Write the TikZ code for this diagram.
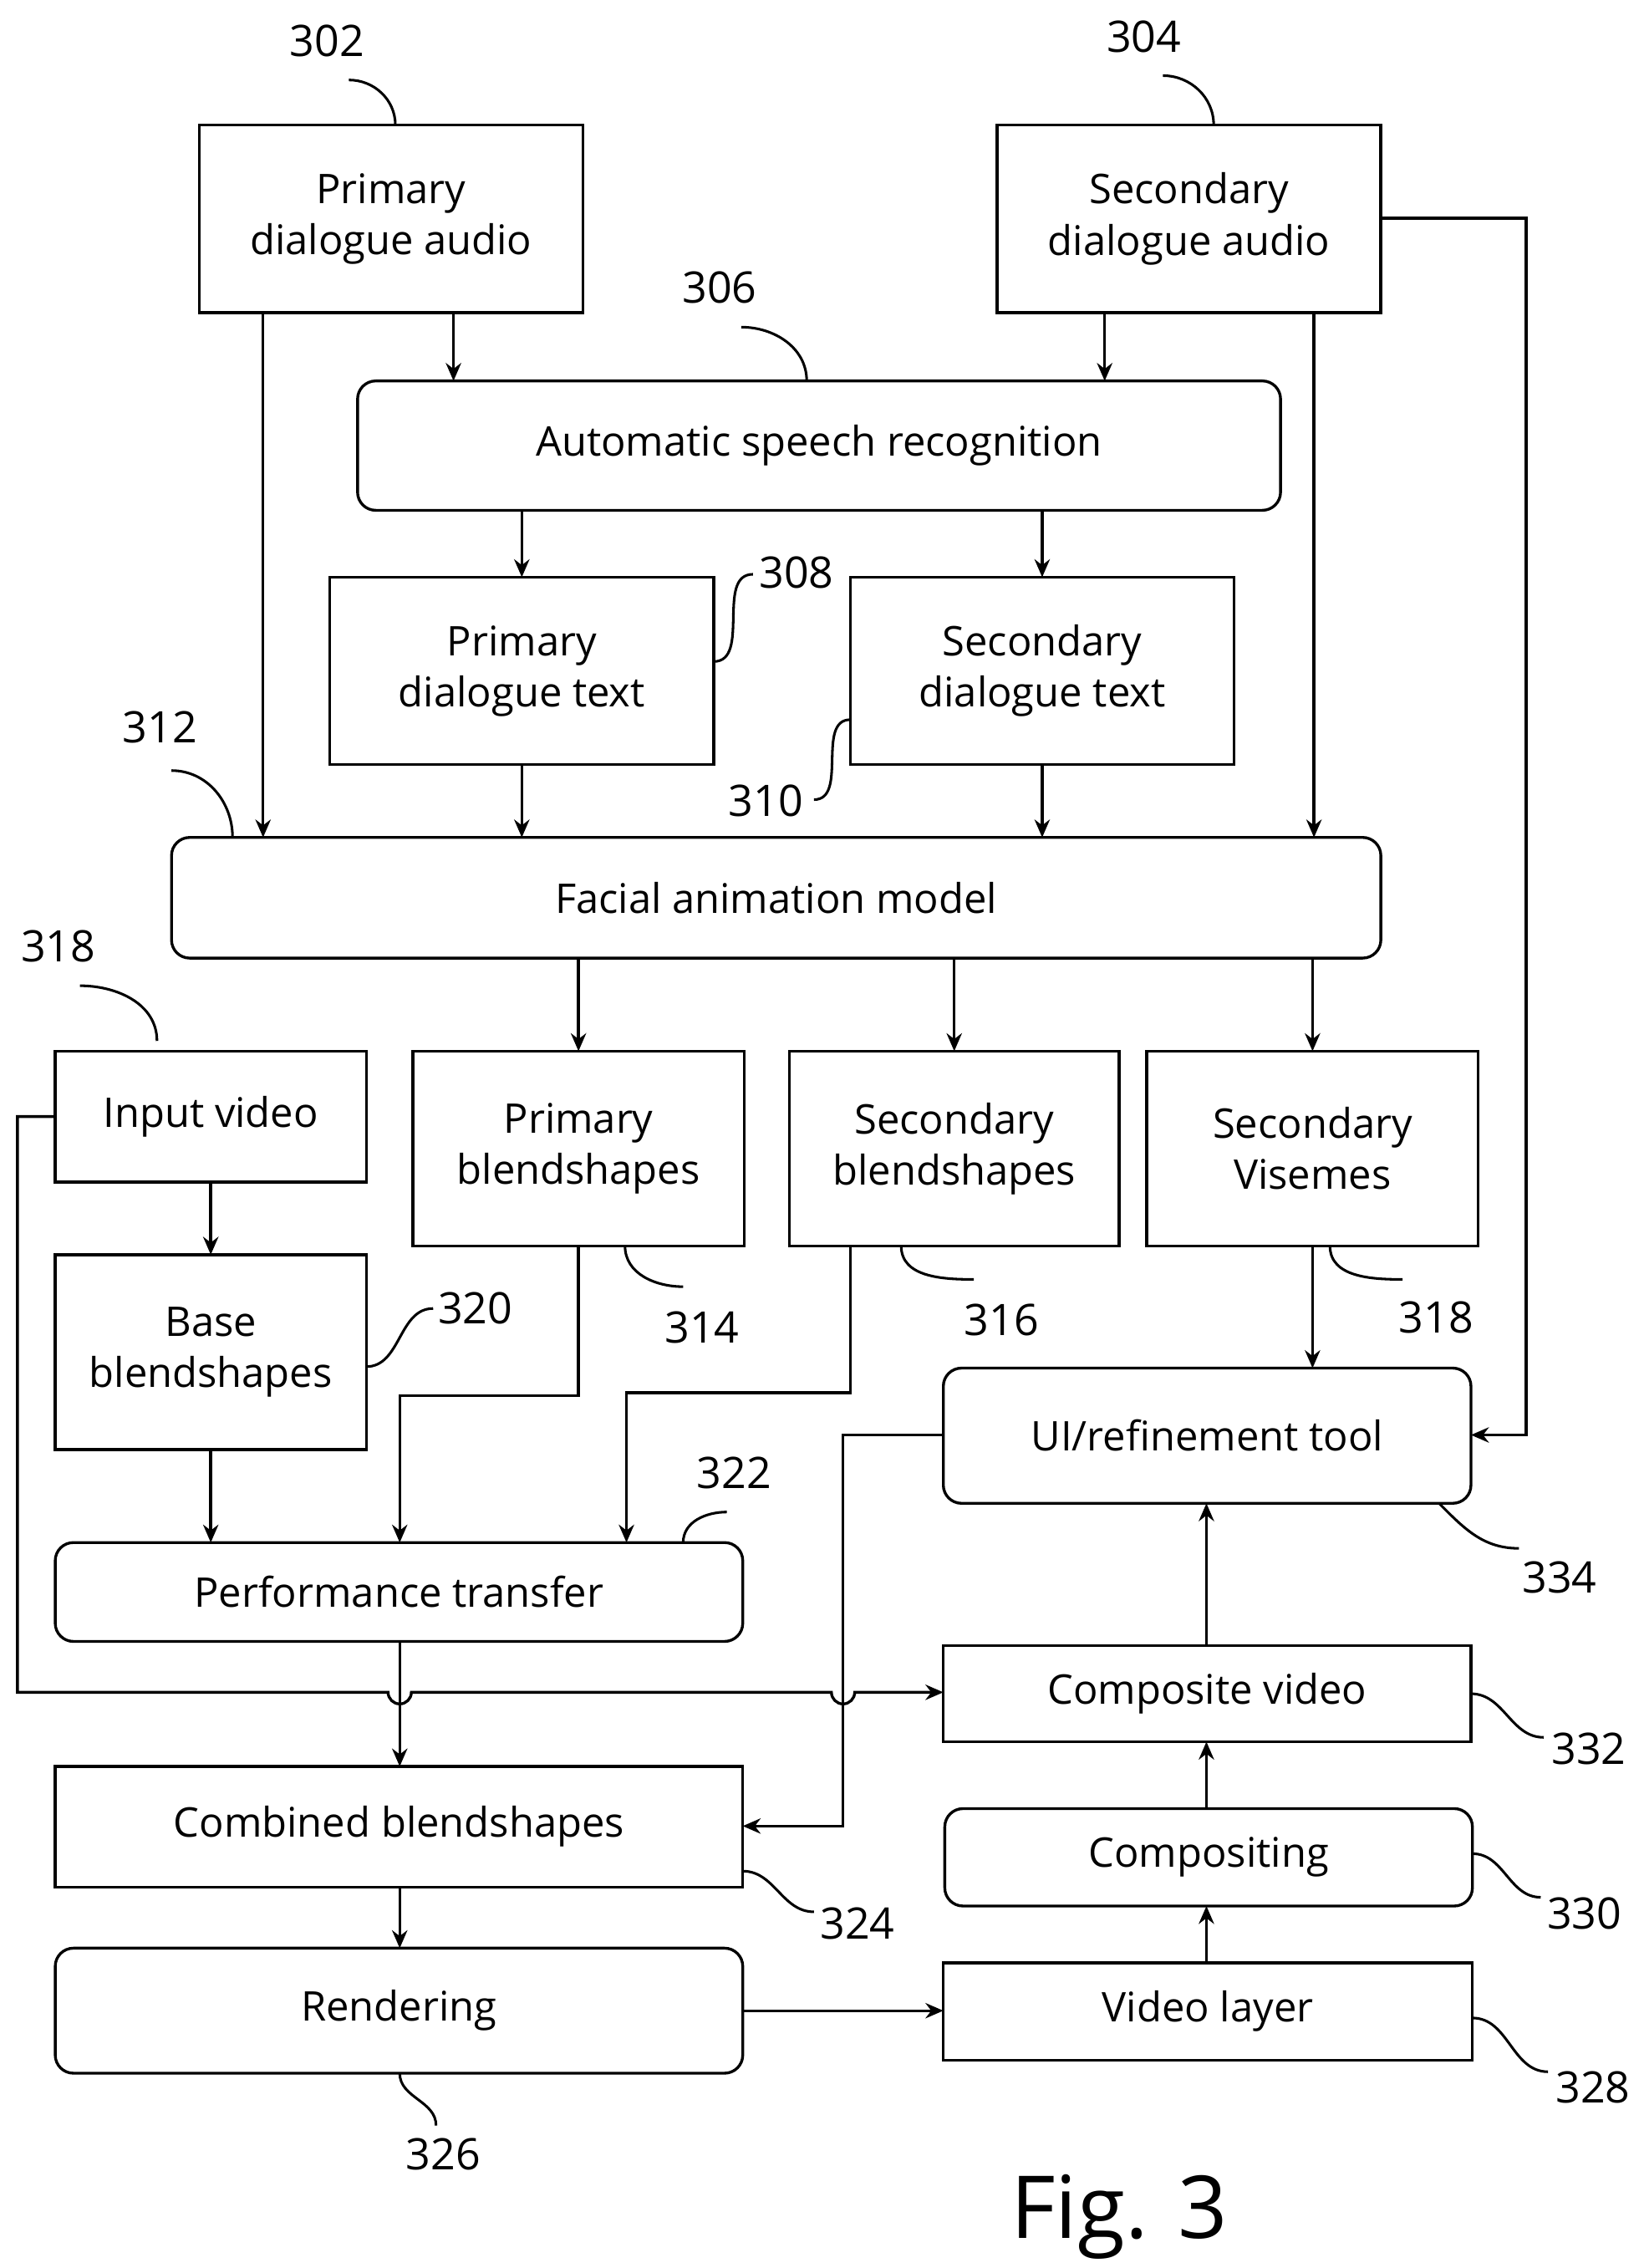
\documentclass[tikz,border=0pt]{standalone}
\usepackage{fontspec}
\setmainfont{Open Sans}
\usetikzlibrary{arrows.meta}
\begin{document}
\begin{tikzpicture}[x=0.02cm,y=-0.02cm,
  every node/.style={inner sep=0,outer sep=0,font=\fontsize{16}{20}\selectfont,align=center},
  box/.style={draw,line width=1.1pt},
  rbox/.style={draw,line width=1.1pt,rounded corners=0.25cm},
  ar/.style={line width=1.1pt,-{Stealth[length=7pt,width=6pt]}},
  ln/.style={line width=1.1pt},
  lead/.style={line width=1pt},
  num/.style={font=\fontsize{17}{20}\selectfont}]
\useasboundingbox (0,0) rectangle (1131,1560);
\newcommand\bx[7]{\node[#6, minimum width={(#4-#2)*0.02cm}, minimum height={(#5-#3)*0.02cm}] (#1) at ({(#2+#4)/2},{(#3+#5)/2}) {#7};}
\bx{A}{137}{86}{401}{215}{box}{Primary\\dialogue audio}
\bx{B}{686}{86}{950}{215}{box}{Secondary\\dialogue audio}
\bx{asr}{246}{262}{881}{351}{rbox}{Automatic speech recognition}
\bx{pt}{227}{397}{491}{526}{box}{Primary\\dialogue text}
\bx{st}{585}{397}{849}{526}{box}{Secondary\\dialogue text}
\bx{fam}{118}{576}{950}{659}{rbox}{Facial animation model}
\bx{iv}{38}{723}{252}{813}{box}{Input video}
\bx{pb}{284}{723}{512}{857}{box}{Primary\\blendshapes}
\bx{sb}{543}{723}{770}{857}{box}{Secondary\\blendshapes}
\bx{sv}{789}{723}{1017}{857}{box}{Secondary\\Visemes}
\bx{bb}{38}{863}{252}{997}{box}{Base\\blendshapes}
\bx{ui}{649}{941}{1012}{1034}{rbox}{UI/refinement tool}
\bx{ptr}{38}{1061}{511}{1129}{rbox}{Performance transfer}
\bx{cv}{649}{1132}{1012}{1198}{box}{Composite video}
\bx{cb}{38}{1215}{511}{1298}{box}{Combined blendshapes}
\bx{cmp}{650}{1244}{1013}{1311}{rbox}{Compositing}
\bx{ren}{38}{1340}{511}{1426}{rbox}{Rendering}
\bx{vl}{649}{1350}{1013}{1417}{box}{Video layer}
% arrows
\draw[ar] (181,0 |- A.south) -- (181,0 |- fam.north);
\draw[ar] (312,0 |- A.south) -- (312,0 |- asr.north);
\draw[ar] (760,0 |- B.south) -- (760,0 |- asr.north);
\draw[ar] (904,0 |- B.south) -- (904,0 |- fam.north);
\draw[ar] (B.east |- 0,150) -- (1050,150) -- (1050,987) -- (ui.east |- 0,987);
\draw[ar] (pt.north |- asr.south) -- (pt.north);
\draw[ar] (st.north |- asr.south) -- (st.north);
\draw[ar] (pt.south) -- (pt.south |- fam.north);
\draw[ar] (st.south) -- (st.south |- fam.north);
\draw[ar] (pb.north |- fam.south) -- (pb.north);
\draw[ar] (sb.north |- fam.south) -- (sb.north);
\draw[ar] (sv.north |- fam.south) -- (sv.north);
\draw[ar] (iv.south) -- (bb.north);
\draw[ar] (bb.south) -- (bb.south |- ptr.north);
\draw[ar] (pb.south) -- (398,960) -- (275,960) -- (275,0 |- ptr.north);
\draw[ar] (585,0 |- sb.south) -- (585,958) -- (431,958) -- (431,0 |- ptr.north);
\draw[ar] (sv.south) -- (sv.south |- ui.north);
\draw[ar] (iv.west |- 0,768) -- (12,768) -- (12,1164) -- (267,1164) arc (180:0:8) -- (572,1164) arc (180:0:8) -- (cv.west |- 0,1164);
\draw[ar] (275,0 |- ptr.south) -- (275,0 |- cb.north);
\draw[ar] (ui.west |- 0,987) -- (580,987) -- (580,1256) -- (cb.east |- 0,1256);
\draw[ar] (830,0 |- cv.north) -- (830,0 |- ui.south);
\draw[ar] (830,0 |- cmp.north) -- (830,0 |- cv.south);
\draw[ar] (830,0 |- vl.north) -- (830,0 |- cmp.south);
\draw[ar] (ren.east |- 0,1383) -- (vl.west |- 0,1383);
\draw[ar] (275,0 |- cb.south) -- (275,0 |- ren.north);
% labels
\node[num] (n302) at (225,28) {302};
\draw[lead] (240,55) to[out=0,in=90] (272,86);
\node[num] (n304) at (787,25) {304};
\draw[lead] (800,52) to[out=0,in=90] (835,86);
\node[num] (n306) at (495,198) {306};
\draw[lead] (510,225) to[out=0,in=90] (555,262);
\node[num] (n308) at (548,394) {308};
\draw[lead] (518,395) to[out=180,in=0] (491,455);
\node[num] (n310) at (527,551) {310};
\draw[lead] (560,550) to[out=0,in=180] (585,495);
\node[num] (n312) at (110,500) {312};
\draw[lead] (118,530) to[out=0,in=90] (160,576);
\node[num] (n318a) at (40,651) {318};
\draw[lead] (55,678) to[out=0,in=90] (108,716);
\node[num] (n314) at (483,913) {314};
\draw[lead] (430,857) to[out=-90,in=180] (470,885);
\node[num] (n316) at (689,908) {316};
\draw[lead] (620,857) to[out=-90,in=180] (670,880);
\node[num] (n318b) at (988,906) {318};
\draw[lead] (915,857) to[out=-90,in=180] (965,880);
\node[num] (n320) at (327,900) {320};
\draw[lead] (252,940) to[out=0,in=180] (298,900);
\node[num] (n322) at (505,1013) {322};
\draw[lead] (470,1061) to[out=90,in=180] (500,1040);
\node[num] (n334) at (1073,1085) {334};
\draw[lead] (990,1034) to[out=-45,in=180] (1045,1065);
\node[num] (n332) at (1093,1203) {332};
\draw[lead] (1012,1165) to[out=0,in=180] (1062,1195);
\node[num] (n330) at (1090,1316) {330};
\draw[lead] (1013,1275) to[out=0,in=180] (1060,1305);
\node[num] (n324) at (590,1323) {324};
\draw[lead] (511,1287) to[out=0,in=180] (560,1315);
\node[num] (n328) at (1096,1436) {328};
\draw[lead] (1013,1388) to[out=0,in=180] (1065,1425);
\node[num] (n326) at (305,1482) {326};
\draw[lead] (275,1426) to[out=-90,in=90] (300,1462);
\node[font=\fontsize{34}{40}\selectfont] (fig) at (770,1525) {Fig. 3};
\end{tikzpicture}
\end{document}
